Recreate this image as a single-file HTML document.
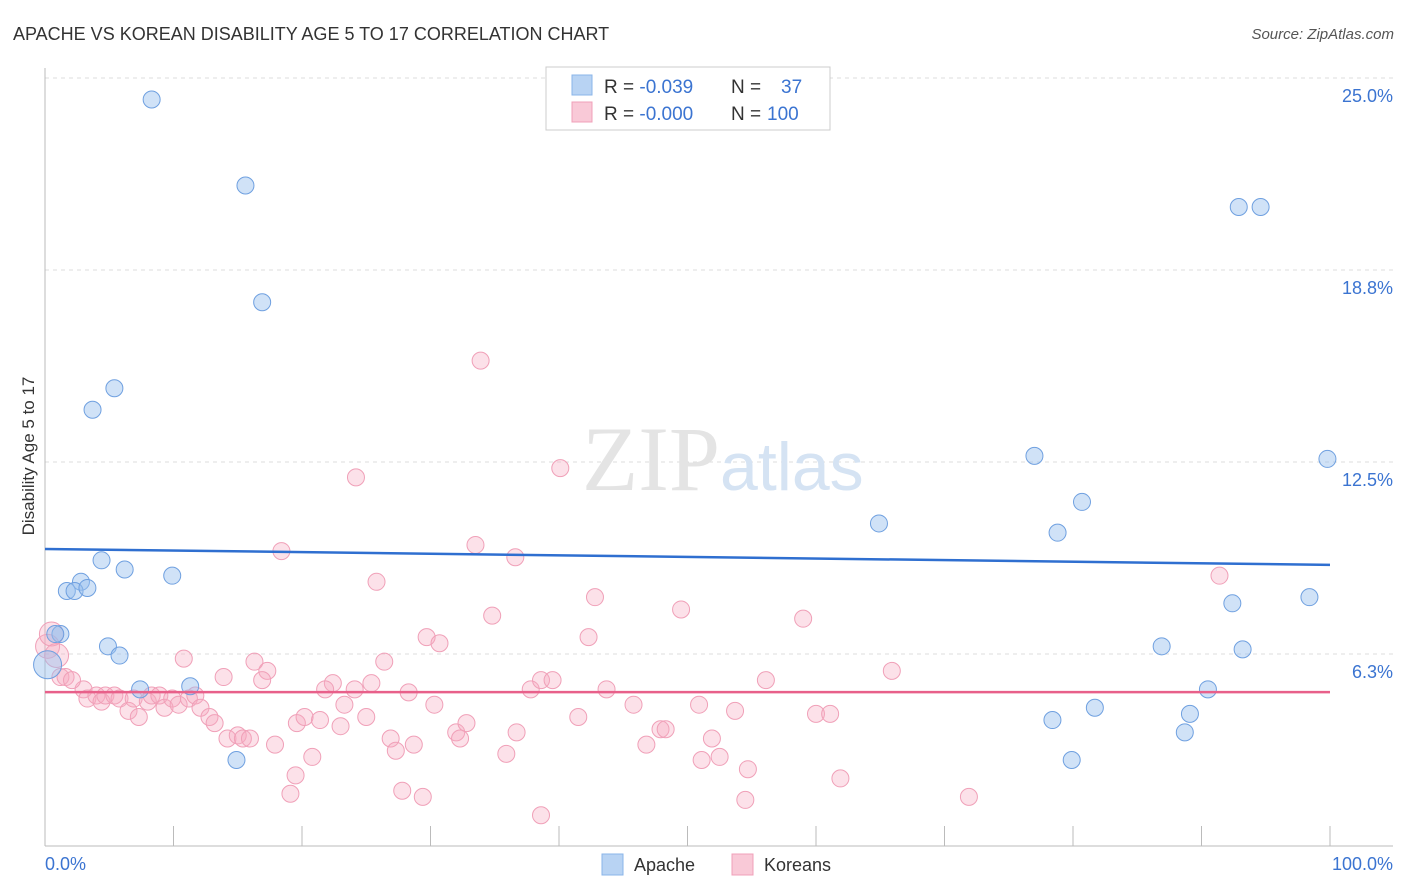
<!DOCTYPE html>
<html><head><meta charset="utf-8"><style>
body{margin:0;background:#fff;font-family:"Liberation Sans",sans-serif;}
svg{display:block}
</style></head><body>
<svg id="chart" width="1406" height="892">
<text x="13" y="40" font-size="18" fill="#333">APACHE VS KOREAN DISABILITY AGE 5 TO 17 CORRELATION CHART</text>
<text x="1394" y="39" font-size="15" fill="#555" font-style="italic" text-anchor="end">Source: ZipAtlas.com</text>
<text x="34" y="456" font-size="17" fill="#333" transform="rotate(-90 34 456)" text-anchor="middle">Disability Age 5 to 17</text>
<g id="grid"></g>
<text x="720" y="490" font-size="92" fill="#e4e4e4" text-anchor="end" font-family="Liberation Serif,serif">ZIP</text>
<text x="720" y="490" font-size="68" fill="#d5e3f3">atlas</text>
<g id="pts"></g>
<g id="lines"></g>
<g>
<rect x="546" y="67" width="284" height="63" fill="#fff" stroke="#ccc"/>
<rect x="572" y="75" width="20" height="20" fill="#b8d3f3" stroke="#8ab4e8"/>
<rect x="572" y="102" width="20" height="20" fill="#f9c9d7" stroke="#f0a0b8"/>
<text x="604" y="93" font-size="19" fill="#333">R = <tspan fill="#3b74d1">-0.039</tspan><tspan x="731">N = </tspan><tspan x="781" fill="#3b74d1">37</tspan></text>
<text x="604" y="120" font-size="19" fill="#333">R = <tspan fill="#3b74d1">-0.000</tspan><tspan x="731">N = </tspan><tspan x="767" fill="#3b74d1">100</tspan></text>
</g>
<g>
<rect x="602" y="854" width="21" height="21" fill="#b8d3f3" stroke="#8ab4e8"/>
<text x="634" y="871" font-size="18" fill="#333">Apache</text>
<rect x="732" y="854" width="21" height="21" fill="#f9c9d7" stroke="#f0a0b8"/>
<text x="764" y="871" font-size="18" fill="#333">Koreans</text>
</g>
</svg>
<script>
const yTicks=[6.25,12.5,18.75,25];
const yTickLabels=["6.3%","12.5%","18.8%","25.0%"];
const apacheX=[8.3,15.6,16.9,5.4,3.7,4.4,6.2,9.9,2.8,1.7,2.3,3.3,1.2,0.8,4.9,5.8,7.4,11.3,14.9,64.9,77.0,78.8,80.7,99.8,92.9,94.6,92.4,98.4,86.9,93.2,90.5,81.7,78.4,79.9,89.1,88.7,0.2];
const apacheY=[24.3,21.5,17.7,14.9,14.2,9.3,9.0,8.8,8.6,8.3,8.3,8.4,6.9,6.9,6.5,6.2,5.1,5.2,2.8,10.5,12.7,10.2,11.2,12.6,20.8,20.8,7.9,8.1,6.5,6.4,5.1,4.5,4.1,2.8,4.3,3.7,5.9];
const koreaX=[33.9,24.2,40.1,33.5,18.4,36.6,25.8,91.4,42.8,49.5,34.8,59.0,29.7,30.7,42.3,10.8,16.3,17.3,26.4,65.9,13.9,16.9,22.4,25.4,21.8,24.1,28.3,37.8,38.6,39.5,43.7,56.1,3.0,3.3,4.0,4.4,4.7,5.4,5.8,6.5,6.9,7.3,8.0,8.3,8.9,9.3,9.9,10.4,11.2,11.7,12.1,12.8,13.2,14.2,15.0,15.4,15.95,17.9,19.6,20.2,21.4,23.0,23.3,25.0,26.9,27.3,28.7,30.3,32.0,32.3,32.8,36.7,35.9,41.5,45.8,46.8,47.9,48.3,50.9,51.1,51.9,52.5,53.7,54.7,54.5,60.0,61.1,61.9,71.9,19.5,19.1,20.8,27.8,29.4,38.6,1.2,1.6,2.1,0.2,0.5,0.9];
const koreaY=[15.8,12.0,12.3,9.8,9.6,9.4,8.6,8.8,8.1,7.7,7.5,7.4,6.8,6.6,6.8,6.1,6.0,5.7,6.0,5.7,5.5,5.4,5.3,5.3,5.1,5.1,5.0,5.1,5.4,5.4,5.1,5.4,5.1,4.8,4.9,4.7,4.9,4.9,4.8,4.4,4.8,4.2,4.7,4.9,4.9,4.5,4.8,4.6,4.8,4.9,4.5,4.2,4.0,3.5,3.6,3.5,3.5,3.3,4.0,4.2,4.1,3.9,4.6,4.2,3.5,3.1,3.3,4.6,3.7,3.5,4.0,3.7,3.0,4.2,4.6,3.3,3.8,3.8,4.6,2.8,3.5,2.9,4.4,2.5,1.5,4.3,4.3,2.2,1.6,2.3,1.7,2.9,1.8,1.6,1.0,5.5,5.5,5.4,6.5,6.9,6.2];
const apacheLine=[9.67,9.15];
const koreaLine=[5.01,5.01];
const NS="http://www.w3.org/2000/svg";
const X0=45,X1=1330,Y0=846,YTOP=78;
const sx=v=>X0+v/100*(X1-X0);
const sy=v=>Y0-v/25*(Y0-YTOP);
function mk(t,a,p){const e=document.createElementNS(NS,t);for(const k in a)e.setAttribute(k,a[k]);p.appendChild(e);return e;}
const grid=document.getElementById('grid');
yTicks.forEach((t,i)=>{
 const l=mk('line',{x1:45,x2:1393,y1:sy(t),y2:sy(t),stroke:'#ddd','stroke-dasharray':'4,4'},grid);
 
 
 const tx=mk('text',{x:1393,y:sy(t)+24,'font-size':18,fill:'#3b74d1','text-anchor':'end'},grid);
 tx.textContent=yTickLabels[i];
 
 
});
const ax=mk('line',{x1:45,x2:45,y1:68,y2:846,stroke:'#bbb'},grid);


const bx=mk('line',{x1:45,x2:1393,y1:846,y2:846,stroke:'#bbb'},grid);


for(let i=0;i<=10;i++){
 const t=mk('line',{x1:sx(i*10),x2:sx(i*10),y1:826,y2:846,stroke:'#bbb'},grid);
 
 
}
[["0.0%",45,"start"],["100.0%",1393,"end"]].forEach(d=>{
 const t=mk('text',{x:d[1],y:870,'font-size':18,fill:'#3b74d1','text-anchor':d[2]},grid);
 t.textContent=d[0];
 
 
});
const pts=document.getElementById('pts');
koreaX.forEach((x,i)=>{
 const c=mk('circle',{cx:sx(x),cy:sy(koreaY[i]),r:i>=98?12:8.5,fill:'rgba(246,170,192,0.35)',stroke:'#f0a0b8','stroke-width':1},pts);
 
 
});
apacheX.forEach((x,i)=>{
 const c=mk('circle',{cx:sx(x),cy:sy(apacheY[i]),r:i==36?14:8.5,fill:'rgba(150,190,238,0.45)',stroke:'#6fa0e0','stroke-width':1},pts);
 
 
});
const lines=document.getElementById('lines');
const l1=mk('line',{x1:sx(0),x2:sx(100),y1:sy(apacheLine[0]),y2:sy(apacheLine[1]),stroke:'#2f6fd0','stroke-width':2.5},lines);


const l2=mk('line',{x1:sx(0),x2:sx(100),y1:sy(koreaLine[0]),y2:sy(koreaLine[1]),stroke:'#e8608a','stroke-width':2.5},lines);


</script>
</body></html>
